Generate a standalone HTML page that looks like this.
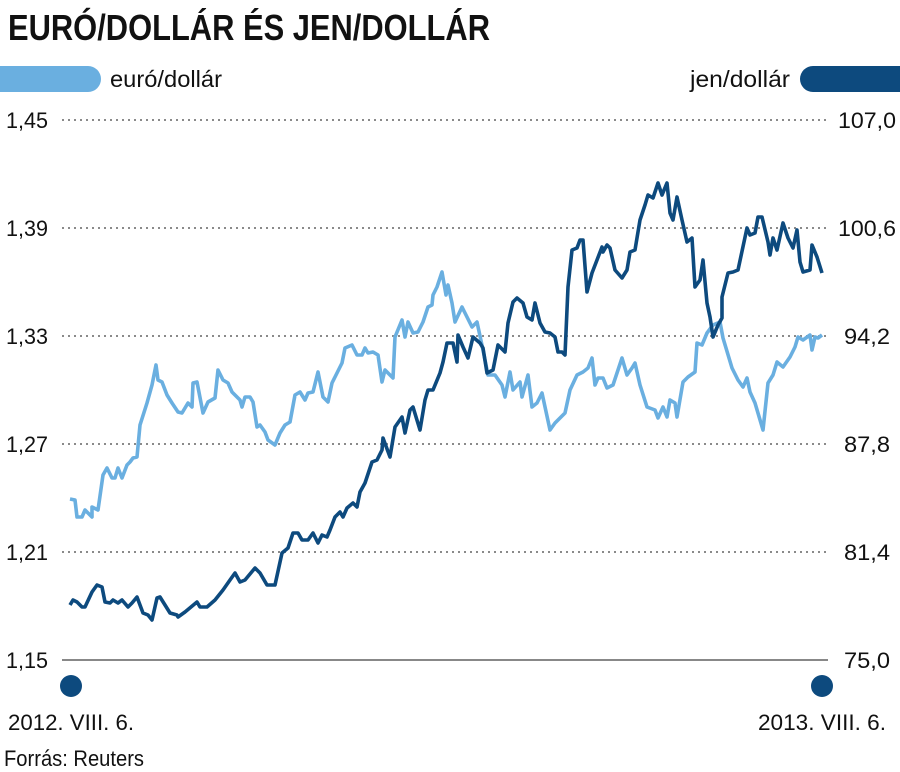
<!DOCTYPE html>
<html><head><meta charset="utf-8"><style>html,body{margin:0;padding:0;background:#fff}svg{display:block}</style></head><body>
<svg width="900" height="772" viewBox="0 0 900 772" xmlns="http://www.w3.org/2000/svg" font-family="'Liberation Sans Narrow','Liberation Sans',sans-serif">
<text x="8" y="40" font-size="36" font-weight="bold" fill="#111" textLength="482" lengthAdjust="spacingAndGlyphs">EURÓ/DOLLÁR ÉS JEN/DOLLÁR</text>
<path d="M0,66 H88 A13,13 0 0 1 88,92 H0 Z" fill="#6aafe0"/>
<text x="110" y="87" font-size="23" fill="#111" textLength="112" lengthAdjust="spacingAndGlyphs">euró/dollár</text>
<path d="M900,66 H813 A13,13 0 0 0 813,92 H900 Z" fill="#0d4a7e"/>
<text x="690" y="87" font-size="23" fill="#111" textLength="100" lengthAdjust="spacingAndGlyphs">jen/dollár</text>
<g stroke="#8a8a8a" stroke-width="2" stroke-dasharray="2,4">
<line x1="62" y1="120" x2="828" y2="120"/><line x1="62" y1="228" x2="828" y2="228"/><line x1="62" y1="336" x2="828" y2="336"/><line x1="62" y1="444" x2="828" y2="444"/><line x1="62" y1="552" x2="828" y2="552"/>
</g>
<line x1="62" y1="660" x2="828" y2="660" stroke="#888" stroke-width="2"/>
<g font-size="22" fill="#111">
<text x="6" y="128" textLength="42" lengthAdjust="spacingAndGlyphs">1,45</text>
<text x="6" y="236" textLength="42" lengthAdjust="spacingAndGlyphs">1,39</text>
<text x="6" y="344" textLength="42" lengthAdjust="spacingAndGlyphs">1,33</text>
<text x="6" y="452" textLength="42" lengthAdjust="spacingAndGlyphs">1,27</text>
<text x="6" y="560" textLength="42" lengthAdjust="spacingAndGlyphs">1,21</text>
<text x="6" y="668" textLength="42" lengthAdjust="spacingAndGlyphs">1,15</text>
<text x="838" y="128" textLength="58" lengthAdjust="spacingAndGlyphs">107,0</text>
<text x="838" y="236" textLength="58" lengthAdjust="spacingAndGlyphs">100,6</text>
<text x="844" y="344" textLength="46" lengthAdjust="spacingAndGlyphs">94,2</text>
<text x="844" y="452" textLength="46" lengthAdjust="spacingAndGlyphs">87,8</text>
<text x="844" y="560" textLength="46" lengthAdjust="spacingAndGlyphs">81,4</text>
<text x="844" y="668" textLength="46" lengthAdjust="spacingAndGlyphs">75,0</text>
<text x="8" y="730" textLength="126" lengthAdjust="spacingAndGlyphs">2012. VIII. 6.</text>
<text x="758" y="730" textLength="128" lengthAdjust="spacingAndGlyphs">2013. VIII. 6.</text>
<text x="4" y="766" textLength="140" lengthAdjust="spacingAndGlyphs">Forrás: Reuters</text>
</g>
<circle cx="71" cy="686" r="11" fill="#0d4a7e"/>
<circle cx="822" cy="686" r="11" fill="#0d4a7e"/>
<polyline fill="none" stroke="#6aafe0" stroke-width="3.6" stroke-linejoin="round" points="70,499 75,500 77,517 82,517 85,510 92,517 92,507 98,510 103,475 107,468 112,478 115,478 118,468 122,478 127,465 130,462 133,458 137,457 140,425 147,403 152,385 156,365 158,380 162,382 167,395 172,403 178,412 182,413 188,403 192,407 193,383 197,382 203,413 208,402 215,398 218,370 223,380 228,383 232,392 240,400 242,407 245,397 250,397 253,402 257,427 260,425 265,432 268,440 275,445 280,433 285,425 290,422 295,395 300,392 305,400 308,393 313,392 318,372 323,397 328,402 332,383 337,373 342,363 345,348 352,345 357,355 362,355 365,348 368,353 373,352 378,355 382,382 385,370 393,378 395,337 402,320 405,337 408,322 413,333 418,332 423,322 428,307 432,305 433,295 437,287 442,272 446,295 448,285 452,303 455,322 462,307 467,317 472,327 477,322 483,350 488,375 495,375 502,385 505,397 510,372 513,390 520,382 522,397 528,375 532,407 537,403 542,393 550,430 555,423 560,418 565,413 570,390 577,375 583,372 588,368 592,358 595,385 598,378 603,378 607,388 613,385 622,358 627,375 632,368 635,363 640,385 647,407 655,410 658,418 663,407 667,417 670,400 675,403 677,417 683,382 688,377 695,372 697,343 702,345 707,333 713,325 720,322 723,338 732,368 738,380 743,387 747,378 750,392 755,403 763,430 768,383 773,375 777,362 783,367 790,357 795,347 798,337 803,340 810,335 812,350 815,337 818,338 822,335"/>
<polyline fill="none" stroke="#0d4a7e" stroke-width="3.6" stroke-linejoin="round" points="70,605 73,600 77,602 82,607 85,607 92,592 97,585 102,587 105,602 110,603 113,600 118,603 122,600 128,607 132,603 137,597 143,613 148,615 152,620 157,598 160,597 165,605 170,613 177,615 178,617 185,612 197,602 200,607 207,607 215,600 223,590 230,580 235,573 240,582 245,580 255,568 260,573 267,585 275,585 282,553 288,548 293,533 298,533 302,540 308,540 313,533 318,543 322,535 327,537 330,530 335,517 340,512 343,517 347,508 353,503 357,507 360,492 365,483 372,462 377,460 382,450 383,438 390,457 395,427 402,417 405,433 410,410 413,407 420,430 425,400 428,390 433,390 440,373 443,362 447,343 453,343 457,362 458,335 463,347 468,358 473,337 480,343 483,348 487,373 493,370 498,345 505,352 508,323 513,302 517,298 523,303 527,317 532,320 535,303 540,323 545,332 550,333 555,337 558,352 562,352 565,355 568,287 572,250 577,248 580,240 583,240 587,292 592,273 597,260 602,247 603,252 607,245 610,248 615,270 622,278 627,270 630,252 635,250 640,220 645,205 648,195 653,198 658,183 662,195 667,183 670,213 673,220 677,197 682,220 687,242 692,238 695,287 700,280 703,260 707,303 710,317 713,337 718,325 722,318 722,297 728,273 733,272 738,270 747,228 750,235 755,233 758,217 762,217 768,242 770,255 773,238 777,250 783,223 788,238 793,248 797,230 800,262 803,272 810,270 812,245 817,257 822,273"/>
</svg>
</body></html>
